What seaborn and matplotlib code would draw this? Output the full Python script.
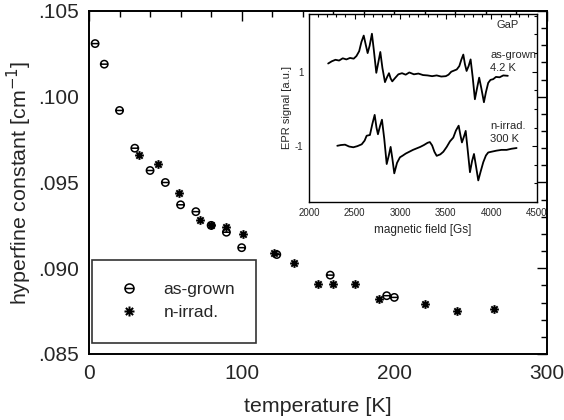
import matplotlib
matplotlib.use("Agg")
import matplotlib.pyplot as plt
import matplotlib.ticker as mticker
from matplotlib.path import Path
from matplotlib.lines import Line2D
import seaborn as sns
import pandas as pd

# ---------------- data ----------------
ag_temp = [4, 10, 20, 30, 40, 50, 60, 70, 80, 90, 100, 123, 158, 195, 200]
ag_hfc = [0.1031, 0.1019, 0.0992, 0.0970, 0.0957, 0.0950, 0.0937, 0.0933,
          0.0925, 0.0921, 0.0912, 0.0908, 0.0896, 0.0884, 0.0883]

ni_temp = [33, 45, 59, 73, 80, 90, 101, 121, 134, 150, 160, 174, 190, 220, 241, 265]
ni_hfc = [0.0966, 0.0961, 0.0944, 0.0928, 0.0925, 0.0924, 0.0920, 0.0909,
          0.0903, 0.0891, 0.0891, 0.0891, 0.0882, 0.0879, 0.0875, 0.0876]

ag_field = [2210, 2250, 2290, 2330, 2370, 2410, 2450, 2490, 2520, 2550, 2575, 2600,
            2620, 2643, 2665, 2690, 2710, 2738, 2760, 2782, 2805, 2833, 2855, 2877,
            2895, 2913, 2940, 2980, 3020, 3060, 3100, 3150, 3200, 3250, 3300, 3350,
            3400, 3450, 3500, 3530, 3560, 3590, 3620, 3648, 3670, 3692, 3710, 3728,
            3750, 3772, 3795, 3819, 3842, 3866, 3890, 3918, 3940, 3965, 3990, 4020,
            4050, 4090, 4130, 4180]
ag_signal = [1.22, 1.28, 1.32, 1.30, 1.36, 1.33, 1.37, 1.35, 1.42, 1.55, 1.80, 1.97,
             1.75, 1.50, 1.70, 2.02, 1.60, 0.97, 1.25, 1.53, 1.10, 0.72, 0.85, 0.96,
             0.82, 0.74, 0.82, 0.93, 0.96, 0.92, 0.98, 0.93, 0.95, 0.91, 0.90, 0.88,
             0.90, 0.87, 0.88, 0.92, 1.00, 1.03, 1.06, 1.15, 1.32, 1.46, 1.20, 1.02,
             1.15, 1.33, 0.85, 0.26, 0.55, 0.84, 0.55, 0.18, 0.45, 0.70, 0.78, 0.80,
             0.86, 0.85, 0.90, 0.89]

ni_field = [2310, 2350, 2395, 2440, 2486, 2530, 2578, 2610, 2632, 2668, 2695, 2720,
            2740, 2756, 2780, 2800, 2825, 2852, 2875, 2895, 2915, 2935, 2965, 2997,
            3030, 3060, 3100, 3140, 3180, 3220, 3260, 3300, 3325, 3350, 3375, 3400,
            3440, 3473, 3510, 3546, 3582, 3611, 3641, 3660, 3677, 3698, 3718, 3740,
            3765, 3788, 3809, 3832, 3856, 3880, 3911, 3940, 3965, 4000, 4057, 4110,
            4167, 4220, 4276]
ni_signal = [-0.99, -0.97, -0.96, -1.01, -1.03, -1.00, -0.95, -0.85, -0.72, -0.70,
             -0.40, -0.16, -0.50, -0.68, -0.45, -0.29, -0.80, -1.48, -1.25, -1.02,
             -1.35, -1.73, -1.45, -1.30, -1.25, -1.20, -1.15, -1.10, -1.06, -1.02,
             -0.97, -0.91, -0.89, -0.98, -1.15, -1.26, -1.22, -1.15, -1.02, -0.87,
             -0.77, -0.58, -0.45, -0.70, -0.90, -0.75, -0.59, -1.10, -1.70, -1.40,
             -1.21, -1.55, -1.92, -1.70, -1.43, -1.25, -1.17, -1.15, -1.12, -1.10,
             -1.10, -1.07, -1.05]

series_labels = ["as-grown", "n-irrad."]

# ---------------- style ----------------
sns.set_style("white")
plt.rcParams["font.family"] = ["Liberation Sans", "DejaVu Sans"]

# markers: circle with horizontal bar, and 8-arm asterisk
circ = Path.unit_circle()
theta_marker = Path.make_compound_path(
    circ, Path([(-1, 0), (1, 0)], [Path.MOVETO, Path.LINETO]))
d = 0.72
star_marker = Path(
    [(-1, 0), (1, 0), (0, -1), (0, 1), (-d, -d), (d, d), (-d, d), (d, -d)],
    [Path.MOVETO, Path.LINETO] * 4)

fig = plt.figure(figsize=(5.64, 4.2), dpi=100)
ax = fig.add_axes([89 / 564, 66 / 420, 458 / 564, 343 / 420])

df_ag = pd.DataFrame({"T": ag_temp, "A": ag_hfc})
df_ni = pd.DataFrame({"T": ni_temp, "A": ni_hfc})

sns.scatterplot(data=df_ag, x="T", y="A", ax=ax, marker=theta_marker, s=28,
                facecolor="none", edgecolor="black", linewidth=1.1, zorder=3)
sns.scatterplot(data=df_ni, x="T", y="A", ax=ax, marker=star_marker, s=40,
                facecolor="black", edgecolor="black", linewidth=1.45, zorder=3)

ax.set_xlim(0, 300)
ax.set_ylim(0.085, 0.105)
ax.xaxis.set_major_locator(mticker.MultipleLocator(100))
ax.xaxis.set_minor_locator(mticker.MultipleLocator(20))
ax.yaxis.set_major_locator(mticker.MultipleLocator(0.005))
ax.yaxis.set_minor_locator(mticker.MultipleLocator(0.001))
ax.yaxis.set_major_formatter(mticker.FuncFormatter(lambda v, p: f"{v:.3f}"[1:]))
ax.tick_params(which="both", direction="in", top=True, right=True,
               labelsize=15, color="black", width=1.0, pad=7)
ax.tick_params(which="major", length=7)
ax.tick_params(which="minor", length=4)
for sp in ax.spines.values():
    sp.set_color("black")
    sp.set_linewidth(1.4)
ax.set_xlabel("temperature [K]", fontsize=15.4, labelpad=10)
ax.set_ylabel("hyperfine constant [cm$^{-1}$]", fontsize=15.4, labelpad=3)

handles = [
    Line2D([], [], linestyle="none", marker=theta_marker, markersize=6.5,
           markerfacecolor="none", markeredgecolor="black", markeredgewidth=1.1),
    Line2D([], [], linestyle="none", marker=star_marker, markersize=7.2,
           markerfacecolor="black", markeredgecolor="black", markeredgewidth=1.45),
]
leg = ax.legend(handles, series_labels, loc="lower left",
                bbox_to_anchor=(0.007, 0.032, 0.358, 0.236), mode="expand",
                fontsize=12.5, frameon=True, fancybox=False, borderpad=1.3,
                labelspacing=0.45, handlelength=1.6, handletextpad=1.2,
                borderaxespad=0)
leg.get_frame().set_edgecolor("black")
leg.get_frame().set_linewidth(1.2)

# ---------------- inset ----------------
ins = fig.add_axes([309 / 564, 218 / 420, 228 / 564, 188 / 420])
sns.lineplot(x=ag_field, y=ag_signal, ax=ins, color="black", linewidth=1.3,
             estimator=None, sort=False)
sns.lineplot(x=ni_field, y=ni_signal, ax=ins, color="black", linewidth=1.3,
             estimator=None, sort=False)
ins.set_xlim(2000, 4500)
ins.set_ylim(-2.5, 2.55)
ins.xaxis.set_major_locator(mticker.MultipleLocator(500))
ins.xaxis.set_minor_locator(mticker.MultipleLocator(100))
ins.set_yticks([-1, 1])
ins.set_yticklabels(["-1", "1"])
ins.yaxis.set_minor_locator(mticker.MultipleLocator(0.5))
ins.tick_params(which="both", direction="in", top=True, right=True,
                labelsize=7, color="black", width=0.8, pad=4)
ins.tick_params(which="major", length=3.5)
ins.tick_params(which="minor", length=2.5)
for sp in ins.spines.values():
    sp.set_color("black")
    sp.set_linewidth(1.0)
ins.set_xlabel("magnetic field [Gs]", fontsize=8.5, labelpad=5)
ins.set_ylabel("EPR signal [a.u.]", fontsize=8, labelpad=2)
ins.text(4060, 2.25, "GaP", fontsize=8, ha="left", va="center")
ins.text(3990, 1.45, "as-grown", fontsize=8, ha="left", va="center")
ins.text(3990, 1.1, "4.2 K", fontsize=8, ha="left", va="center")
ins.text(3990, -0.47, "n-irrad.", fontsize=8, ha="left", va="center")
ins.text(3990, -0.8, "300 K", fontsize=8, ha="left", va="center")

fig.savefig("out.png", dpi=100)
